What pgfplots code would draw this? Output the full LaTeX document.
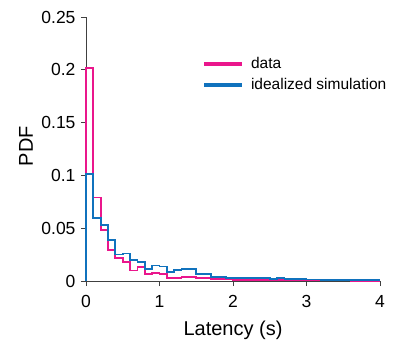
\documentclass[border=0pt]{standalone}
\usepackage{pgfplots}
\pgfplotsset{compat=1.18}
\usepackage{pgfplotstable}
\usepackage{fontspec}
\setmainfont{Liberation Sans}
\definecolor{cpink}{RGB}{234,22,140}
\definecolor{cblue}{RGB}{16,114,189}
\pgfplotstableread{
x pdf
0.0 0
0.0 0.202
0.1 0.079
0.2 0.048
0.3 0.029
0.4 0.022
0.5 0.018
0.6 0.010
0.7 0.0135
0.8 0.0066
0.9 0.0078
1.0 0.0068
1.1 0.0030
1.2 0.0032
1.3 0.0038
1.4 0.0038
1.5 0.0025
1.6 0.0025
1.7 0.0016
1.8 0.0016
1.9 0.0014
2.0 0.0012
2.1 0.0012
2.2 0.0010
2.3 0.0010
2.4 0.0009
2.5 0.0008
2.6 0.0008
2.7 0.0007
2.8 0.0006
2.9 0.0006
3.0 0.0005
3.1 0.0005
3.2 0.0005
3.3 0.0004
3.4 0.0004
3.5 0.0004
3.6 0.0003
3.7 0.0003
3.8 0.0003
3.9 0.0003
4.0 0.0003
}\datatab
\pgfplotstableread{
x pdf
0.0 0
0.0 0.101
0.1 0.060
0.2 0.053
0.3 0.039
0.4 0.025
0.5 0.026
0.6 0.020
0.7 0.0177
0.8 0.0114
0.9 0.0147
1.0 0.0137
1.1 0.0088
1.2 0.0107
1.3 0.0114
1.4 0.0114
1.5 0.0063
1.6 0.0063
1.7 0.0038
1.8 0.0038
1.9 0.0032
2.0 0.0028
2.1 0.0030
2.2 0.0027
2.3 0.0027
2.4 0.0025
2.5 0.0022
2.6 0.0025
2.7 0.0020
2.8 0.0020
2.9 0.0018
3.0 0.0014
3.1 0.0014
3.2 0.0012
3.3 0.0010
3.4 0.0012
3.5 0.0012
3.6 0.0009
3.7 0.0009
3.8 0.0008
3.9 0.0008
4.0 0.0008
}\simtab
\begin{document}
\begin{tikzpicture}
\path (-86bp,-66bp) rectangle (307bp,281bp);
\begin{axis}[
  at={(0,0)}, anchor=south west,
  scale only axis, width=294bp, height=264bp,
  xmin=0, xmax=4, ymin=0, ymax=0.25,
  axis lines*=left,
  axis line style={line width=0.9bp, black!75},
  tick style={line width=0.9bp, black!75},
  tick align=outside,
  major tick length=5bp,
  xtick={0,1,2,3,4},
  xticklabels={0,1,2,3,4},
  ytick={0,0.05,0.1,0.15,0.2,0.25},
  yticklabels={0,0.05,0.1,0.15,0.2,0.25},
  ticklabel style={font=\fontsize{17.5bp}{20bp}\selectfont},
  xticklabel style={yshift=-6bp},
  yticklabel style={xshift=-2bp},
  xlabel={Latency (s)},
  ylabel={PDF},
  label style={font=\fontsize{20bp}{24bp}\selectfont},
  xlabel style={at={(axis description cs:0.5,-0.186)}, anchor=center},
  ylabel style={at={(axis description cs:-0.204,0.511)}, anchor=center, rotate=0},
  clip=false,
  legend style={draw=none, fill=none, at={(axis description cs:0.394,0.855)}, anchor=north west,
    font=\fontsize{15.5bp}{18bp}\selectfont, inner sep=0pt, row sep=4bp,
    nodes={inner sep=2bp, anchor=west}},
  legend cell align=left,
  legend image code/.code={\draw[line width=4bp] (0bp,0bp) -- (38bp,0bp);},
  /tikz/every odd column/.append style={column sep=5bp},
]
\addlegendimage{cpink}
\addlegendentry{data}
\addlegendimage{cblue}
\addlegendentry{idealized simulation}
\addplot[const plot mark left, cpink, line width=1.8bp] table[x=x,y=pdf] {\datatab};
\addplot[const plot mark left, cblue, line width=1.8bp] table[x=x,y=pdf] {\simtab};
\end{axis}
\end{tikzpicture}
\end{document}
